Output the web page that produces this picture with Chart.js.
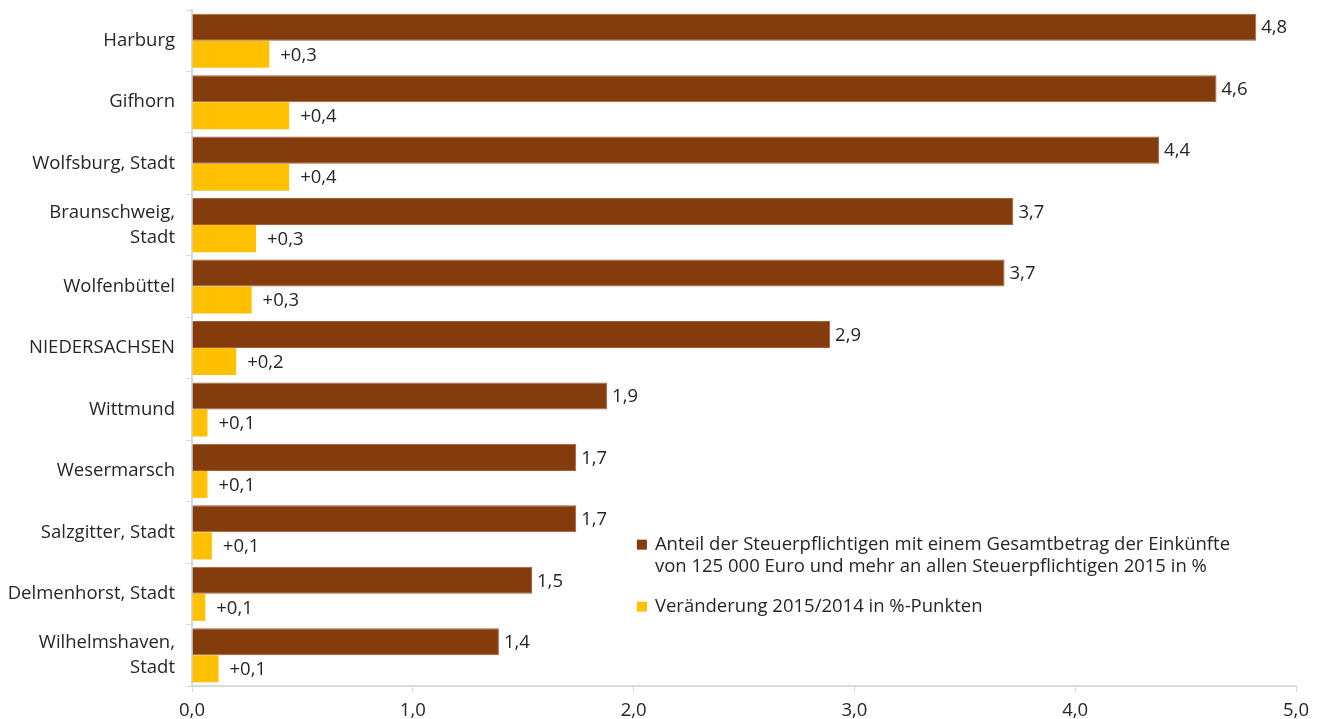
<!DOCTYPE html>
<html><head><meta charset="utf-8">
<script src="https://cdn.jsdelivr.net/npm/chart.js@4/dist/chart.umd.min.js"></script>
<style>html,body{margin:0;padding:0;background:#fff}#wrap{width:1323px;height:719px;position:relative}</style>
</head><body><div id="wrap"><canvas id="c" width="1323" height="719"></canvas></div>
<script>
const categories = [
  "Harburg", "Gifhorn", "Wolfsburg, Stadt", ["Braunschweig,", "Stadt"], "Wolfenbüttel",
  "NIEDERSACHSEN", "Wittmund", "Wesermarsch", "Salzgitter, Stadt", "Delmenhorst, Stadt",
  ["Wilhelmshaven,", "Stadt"]
];
const share2015 = [4.82, 4.64, 4.38, 3.72, 3.68, 2.89, 1.88, 1.74, 1.74, 1.54, 1.39];
const change2015_2014 = [0.35, 0.44, 0.44, 0.29, 0.27, 0.20, 0.07, 0.07, 0.09, 0.06, 0.12];
const seriesNames = [
  ["Anteil der Steuerpflichtigen mit einem Gesamtbetrag der Einkünfte", "von 125 000 Euro und mehr an allen Steuerpflichtigen 2015 in %"],
  ["Veränderung 2015/2014 in %-Punkten"]
];
const xTicks = [0, 1, 2, 3, 4, 5];

const FONT = "'Open Sans', 'Noto Sans', sans-serif";
const FS = 18.5;
const TXT = '#262626';
const AX = '#d9d9d9';
const fmt = v => v.toFixed(1).replace('.', ',');

const labelPlugin = {
  id: 'vals',
  afterDatasetsDraw(chart) {
    const ctx = chart.ctx;
    ctx.save();
    ctx.font = FS + 'px ' + FONT;
    ctx.fillStyle = TXT;
    ctx.textBaseline = 'middle';
    ctx.textAlign = 'left';
    chart.data.datasets.forEach((ds, di) => {
      const meta = chart.getDatasetMeta(di);
      meta.data.forEach((bar, i) => {
        const v = ds.data[i];
        const t = di === 0 ? fmt(v) : '+' + fmt(v);
        ctx.fillText(t, bar.x + (di === 0 ? 5 : 11), bar.y + 1);
      });
    });
    ctx.restore();
  }
};

const legendPlugin = {
  id: 'customLegend',
  afterDraw(chart) {
    const ctx = chart.ctx;
    const xs = chart.scales.x, ys = chart.scales.y;
    ctx.save();
    ctx.font = FS + 'px ' + FONT;
    ctx.textBaseline = 'middle';
    const x0 = xs.getPixelForValue(2.015);
    let y = ys.getPixelForValue(8.2);
    const colors = chart.data.datasets.map(d => d.backgroundColor);
    seriesNames.forEach((lines, i) => {
      ctx.fillStyle = colors[i];
      ctx.fillRect(x0, y - 5, 10, 10);
      ctx.fillStyle = TXT;
      lines.forEach((l, j) => ctx.fillText(l, x0 + 18, y + j * 22));
      y += lines.length * 22 + 18;
    });
    ctx.restore();
  }
};

new Chart(document.getElementById('c'), {
  type: 'bar',
  data: {
    labels: categories,
    datasets: [
      { label: 'Anteil 2015', data: share2015, backgroundColor: '#843C0C', borderColor: '#A5603A', borderWidth: 1, borderSkipped: 'left' },
      { label: 'Veränderung', data: change2015_2014, backgroundColor: '#FFC000', borderWidth: 0 }
    ]
  },
  options: {
    indexAxis: 'y',
    responsive: false,
    animation: false,
    categoryPercentage: 0.88,
    barPercentage: 1.0,
    layout: { autoPadding: false, padding: { top: 10, right: 27, left: 0, bottom: 0 } },
    plugins: { legend: { display: false }, tooltip: { enabled: false } },
    scales: {
      x: {
        min: 0, max: 5,
        afterBuildTicks: s => { s.ticks = xTicks.map(v => ({ value: v })); },
        afterFit: s => { s.height = 33; s.paddingLeft = 0; s.paddingRight = 0; },
        grid: { drawOnChartArea: false, drawTicks: true, tickLength: 6, color: AX, lineWidth: 1 },
        border: { display: true, color: AX, width: 2 },
        ticks: { color: TXT, font: { family: FONT, size: FS }, padding: 8, maxRotation: 0, callback: v => fmt(v) }
      },
      y: {
        afterFit: s => { s.width = 192; s.paddingTop = 0; s.paddingBottom = 0; },
        grid: { drawOnChartArea: false, drawTicks: true, tickLength: 6, color: AX, lineWidth: 1, offset: true },
        border: { display: true, color: AX, width: 2 },
        ticks: { color: TXT, font: { family: FONT, size: FS, lineHeight: 1.35 }, padding: 11 }
      }
    }
  },
  plugins: [labelPlugin, legendPlugin]
});
</script></body></html>
